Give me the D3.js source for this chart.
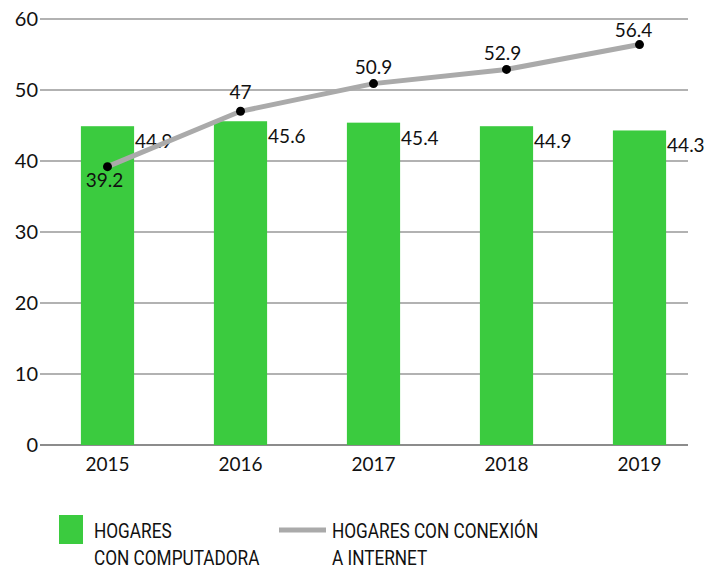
<!DOCTYPE html>
<html>
<head>
<meta charset="utf-8">
<script src="https://cdn.jsdelivr.net/npm/d3@7"></script>
<style>
  body { margin: 0; background: #fff; }
  svg text { font-family: Lato, "Open Sans", sans-serif; fill: #111; }
  .legend text { font-family: Roboto, sans-serif; fill: #111; }
</style>
</head>
<body>
<svg id="chart" width="715" height="569"></svg>
<script>
// data
var years = ['2015', '2016', '2017', '2018', '2019'];
var computadora = [44.9, 45.6, 45.4, 44.9, 44.3];
var internet = [39.2, 47, 50.9, 52.9, 56.4];
var yTicks = [0, 10, 20, 30, 40, 50, 60];

var svg = d3.select('#chart');

var x = d3.scaleBand().domain(years).range([41, 706])
		.paddingInner(0.6).paddingOuter(0.3);
var y = d3.scaleLinear().domain([0, 60]).range([445, 19]);

// gridlines
svg.append('g').selectAll('line')
		.data(yTicks)
		.enter().append('line')
		.attr('x1', 40).attr('x2', 688)
		.attr('y1', function(d) { return y(d); })
		.attr('y2', function(d) { return y(d); })
		.attr('stroke', function(d) { return d === 0 ? '#666' : '#999'; })
		.attr('stroke-width', 1.5);

// y tick labels
svg.append('g').selectAll('text')
		.data(yTicks)
		.enter().append('text')
		.attr('x', 38)
		.attr('y', function(d) { return y(d); })
		.attr('dy', '0.35em')
		.attr('text-anchor', 'end')
		.style('font-size', '20px')
		.text(function(d) { return d; });

// x labels
svg.append('g').selectAll('text')
		.data(years)
		.enter().append('text')
		.attr('x', function(d) { return x(d) + x.bandwidth() / 2; })
		.attr('y', 471)
		.attr('text-anchor', 'middle')
		.style('font-size', '19px')
		.text(function(d) { return d; });

// bars
svg.append('g').selectAll('rect')
		.data(computadora)
		.enter().append('rect')
		.attr('x', function(d, i) { return x(years[i]); })
		.attr('y', function(d) { return y(d); })
		.attr('width', x.bandwidth())
		.attr('height', function(d) { return y(0) - y(d); })
		.attr('fill', '#3bcb3f');

// bar labels
svg.append('g').selectAll('text')
		.data(computadora)
		.enter().append('text')
		.attr('x', function(d, i) { return x(years[i]) + x.bandwidth() + 1; })
		.attr('y', function(d) { return y(d) + 22; })
		.style('font-size', '19px')
		.text(function(d) { return d; });

// line
var cx = function(d, i) { return x(years[i]) + x.bandwidth() / 2; };
var line = d3.line().x(cx).y(function(d) { return y(d); });

svg.append('path')
		.datum(internet)
		.attr('d', line)
		.attr('fill', 'none')
		.attr('stroke', '#aaaaaa')
		.attr('stroke-width', 5);

svg.append('g').selectAll('circle')
		.data(internet)
		.enter().append('circle')
		.attr('cx', cx)
		.attr('cy', function(d) { return y(d); })
		.attr('r', 4.5)
		.attr('fill', '#000');

// line labels (first one sits below the point)
var lblDx = [-3, 0, 0, -4, -6];
var lblDy = [20, -12, -10, -9, -8];
svg.append('g').selectAll('text')
		.data(internet)
		.enter().append('text')
		.attr('x', function(d, i) { return cx(d, i) + lblDx[i]; })
		.attr('y', function(d, i) { return y(d) + lblDy[i]; })
		.attr('text-anchor', 'middle')
		.style('font-size', '19px')
		.text(function(d) { return d; });

// legend (condensed look via horizontal squeeze)
var legend = svg.append('g').attr('class', 'legend');
legend.append('rect')
		.attr('x', 59).attr('y', 515)
		.attr('width', 24).attr('height', 29)
		.attr('fill', '#3bcb3f');
legend.append('line')
		.attr('x1', 279).attr('x2', 326)
		.attr('y1', 530).attr('y2', 530)
		.attr('stroke', '#aaaaaa')
		.attr('stroke-width', 5);

var legItems = [
	{x: 94, lines: ['HOGARES', 'CON COMPUTADORA']},
	{x: 332, lines: ['HOGARES CON CONEXIÓN', 'A INTERNET']}
];
legend.selectAll('text.leg')
		.data(legItems)
		.enter().append('text')
		.attr('class', 'leg')
		.attr('transform', function(d) { return 'translate(' + d.x + ',538) scale(0.82,1)'; })
		.style('font-size', '21px')
		.selectAll('tspan')
		.data(function(d) { return d.lines; })
		.enter().append('tspan')
		.attr('x', 0)
		.attr('dy', function(d, i) { return i ? 27 : 0; })
		.text(function(d) { return d; });
</script>
</body>
</html>
